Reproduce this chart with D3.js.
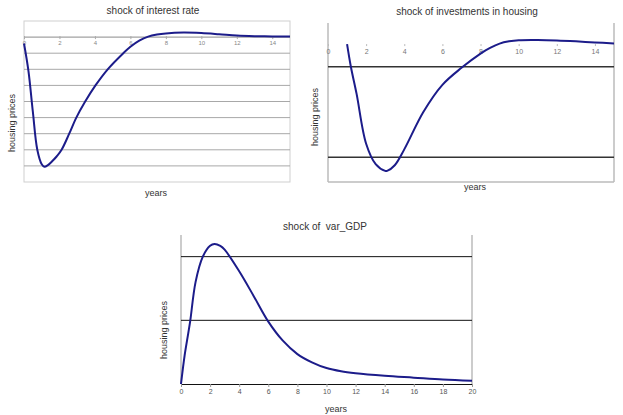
<!DOCTYPE html>
<html><head><meta charset="utf-8">
<script src="https://cdn.jsdelivr.net/npm/d3@7"></script>
<style>body{margin:0;background:#fff}svg{display:block}text{font-family:"Liberation Sans",Arial,sans-serif;white-space:pre}</style>
</head><body>
<svg id="c" width="623" height="415"></svg>
<script>
// ---- data ----
const interestX = [0,0.25,0.5,0.75,1.0,1.15,1.35,1.6,1.85,2.12,2.55,2.95,3.45,4.03,4.72,5.6,6.0,6.5,7.0,7.5,8,9,10,11,12,13,14,15];
const interestY = [-0.4,-2.1,-4.65,-7.0,-7.9,-8.05,-7.95,-7.7,-7.4,-7.0,-6.0,-5.0,-4.0,-3.0,-2.0,-1.0,-0.6,-0.22,0.03,0.16,0.23,0.28,0.25,0.18,0.1,0.06,0.04,0.03];
const investX = [1,1.2,1.5,2,2.5,3,3.1,3.5,4,5,6,7,8,8.5,9,9.5,10,11,12,13,14,15];
const investY = [0,-1,-2.2,-4.4,-5.3,-5.6,-5.6,-5.35,-4.65,-3.0,-1.8,-1.05,-0.42,-0.17,0.02,0.12,0.17,0.18,0.16,0.12,0.07,0.03];
const gdpX = [0,0.25,0.5,0.64,1,1.5,2,2.3,2.7,3,4,5,6,7,8,9,10,11,12,14,16,18,20];
const gdpY = [0,0.45,0.8,1.0,1.6,2.0,2.17,2.2,2.17,2.11,1.77,1.38,0.98,0.68,0.47,0.34,0.25,0.2,0.17,0.13,0.1,0.07,0.05];
const ticks15 = [0,2,4,6,8,10,12,14];
const ticks20 = [0,2,4,6,8,10,12,14,16,18,20];
const titles = ["shock of interest rate","shock of investments in housing","shock of  var_GDP"];
const yLabel = "housing prices", xLabel = "years";

const svg = d3.select("#c");
const lineColor = "#1c1c8a";

function drawLine(g, xs, ys, x, y){
  const pts = xs.map((d,i)=>[d, ys[i]]);
  g.append("path").datum(pts)
    .attr("fill","none").attr("stroke",lineColor).attr("stroke-width",2)
    .attr("d", d3.line().x(d=>x(d[0])).y(d=>y(d[1])).curve(d3.curveCatmullRom.alpha(0.5)));
}
function labels(title, tx, ty, yx, yy, xx, xy){
  svg.append("text").attr("x",tx).attr("y",ty).attr("text-anchor","middle").attr("font-size",10).attr("fill","#333").text(title);
  svg.append("text").attr("transform",`translate(${yx},${yy}) rotate(-90)`).attr("text-anchor","middle").attr("font-size",9).attr("fill","#333").text(yLabel);
  svg.append("text").attr("x",xx).attr("y",xy).attr("text-anchor","middle").attr("font-size",9).attr("fill","#333").text(xLabel);
}

// ---- chart 1 ----
{
  const x = d3.scaleLinear().domain([0,15]).range([24,290]);
  const y = d3.scaleLinear().domain([-9,1]).range([182,21]);
  const g = svg.append("g");
  g.append("rect").attr("x",24).attr("y",21).attr("width",266).attr("height",161).attr("fill","none").attr("stroke","#cfcfcf");
  g.selectAll(".gl").data(d3.range(-8,1)).join("line")
    .attr("x1",24).attr("x2",290).attr("y1",d=>y(d)).attr("y2",d=>y(d))
    .attr("stroke",d=>d===0?"#8a8a8a":"#a8a8a8").attr("stroke-width",1);
  const ax = d3.axisBottom(x).tickValues(ticks15).tickSize(3).tickFormat(d3.format("d"));
  const a = g.append("g").attr("transform",`translate(0,${y(0)-1})`).call(ax);
  a.select(".domain").remove();
  a.selectAll("line").attr("stroke","#aaa");
  a.selectAll("text").attr("font-size",6).attr("fill","#888").attr("dy","0.3em").attr("y",7);
  drawLine(g, interestX, interestY, x, y);
  labels(titles[0],153,14,15,123,156,196);
}

// ---- chart 2 ----
{
  const x = d3.scaleLinear().domain([0,15]).range([328,614]);
  const y = d3.scaleLinear().domain([-6.09,0.93]).range([182,23]);
  const g = svg.append("g");
  g.append("line").attr("x1",328).attr("x2",328).attr("y1",23).attr("y2",182).attr("stroke","#cccccc").attr("stroke-width",2);
  g.append("line").attr("x1",614).attr("x2",614).attr("y1",23).attr("y2",182).attr("stroke","#cccccc").attr("stroke-width",2);
  g.append("line").attr("x1",328).attr("x2",614).attr("y1",182).attr("y2",182).attr("stroke","#bbbbbb").attr("stroke-width",1.5);
  g.selectAll(".gl").data([-1,-5]).join("line")
    .attr("x1",328).attr("x2",614).attr("y1",d=>y(d)).attr("y2",d=>y(d))
    .attr("stroke","#333").attr("stroke-width",1.5);
  const ax = d3.axisBottom(x).tickValues(ticks15).tickSize(2).tickFormat(d3.format("d"));
  const a = g.append("g").attr("transform",`translate(0,${y(0)})`).call(ax);
  a.select(".domain").remove();
  a.selectAll("line").attr("stroke","#bbb");
  a.selectAll("text").attr("font-size",7).attr("fill","#777").attr("dy","0.3em").attr("y",8);
  drawLine(g, investX, investY, x, y);
  labels(titles[1],467,15,318,117,475,190);
}

// ---- chart 3 ----
{
  const x = d3.scaleLinear().domain([0,20]).range([181,472]);
  const y = d3.scaleLinear().domain([0,2.34]).range([384,235]);
  const g = svg.append("g");
  g.append("line").attr("x1",181).attr("x2",181).attr("y1",235).attr("y2",384).attr("stroke","#cccccc").attr("stroke-width",2);
  g.append("line").attr("x1",472).attr("x2",472).attr("y1",235).attr("y2",384).attr("stroke","#cccccc").attr("stroke-width",2);
  g.selectAll(".gl").data([1,2]).join("line")
    .attr("x1",181).attr("x2",472).attr("y1",d=>y(d)).attr("y2",d=>y(d))
    .attr("stroke","#111").attr("stroke-width",1);
  const ax = d3.axisBottom(x).tickValues(ticks20).tickSize(3).tickFormat(d3.format("d"));
  const a = g.append("g").attr("transform",`translate(0,${y(0)})`).call(ax);
  a.select(".domain").attr("stroke","#111").attr("d","M181,0.5H472");
  a.selectAll("line").attr("stroke","#999");
  a.selectAll("text").attr("font-size",7).attr("fill","#555").attr("y",5);
  drawLine(g, gdpX, gdpY, x, y);
  labels(titles[2],325,230,167,330,336,412);
}
</script>
</body></html>
